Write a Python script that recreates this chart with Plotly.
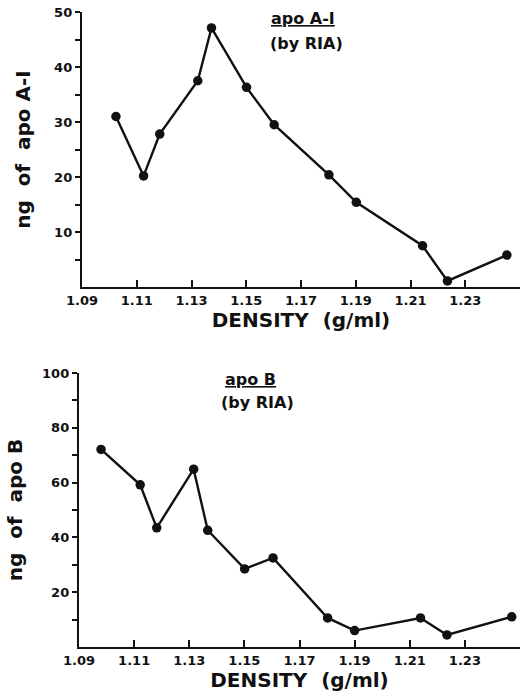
import plotly.graph_objects as go

# Top panel: apo A-I (by RIA)
densityA = [1.1024, 1.1125, 1.1184, 1.1323, 1.1373, 1.1501, 1.1602, 1.1802, 1.1902, 1.2144, 1.2235, 1.2452]
apoA = [31.0, 20.2, 27.8, 37.5, 47.1, 36.3, 29.5, 20.4, 15.4, 7.5, 1.1, 5.8]

# Bottom panel: apo B (by RIA)
densityB = [1.0980, 1.1122, 1.1182, 1.1316, 1.1367, 1.1501, 1.1604, 1.1802, 1.1900, 1.2139, 1.2235, 1.2470]
apoB = [72.1, 59.2, 43.5, 64.9, 42.6, 28.5, 32.5, 10.6, 6.0, 10.6, 4.4, 11.0]

x_ticks = [1.09, 1.11, 1.13, 1.15, 1.17, 1.19, 1.21, 1.23]
x_ticklabels = ["1.09", "1.11", "1.13", "1.15", "1.17", "1.19", "1.21", "1.23"]
yA_ticks = [10, 20, 30, 40, 50]
yA_minor = [5, 15, 25, 35, 45]
yB_ticks = [20, 40, 60, 80, 100]
yB_minor = [10, 30, 50, 70, 90]

W, H = 520, 696
FONT = "DejaVu Sans"
BLACK = "#111111"

fig = go.Figure()
line_style = dict(color=BLACK, width=2.4)
marker_style = dict(color=BLACK, size=9.5)

fig.add_trace(go.Scatter(x=densityA, y=apoA, mode="lines+markers", line=line_style,
                         marker=marker_style, xaxis="x", yaxis="y", showlegend=False))
fig.add_trace(go.Scatter(x=densityB, y=apoB, mode="lines+markers", line=line_style,
                         marker=marker_style, xaxis="x2", yaxis="y2", showlegend=False))

def px_x(p):
    return p / W

def px_y(p):
    return 1 - p / H

common_x = dict(
    range=[1.09, 1.25], tickvals=x_ticks, ticktext=x_ticklabels,
    ticks="inside", ticklen=7, tickwidth=2, tickcolor=BLACK,
    showline=True, linecolor=BLACK, linewidth=2.4, showgrid=False, zeroline=False,
    tickfont=dict(family=FONT, size=13, color=BLACK, weight="bold"),
    title=dict(text="DENSITY  (g/ml)", font=dict(family=FONT, size=20, color=BLACK, weight="bold"), standoff=5),
    automargin=False,
)
common_y = dict(
    ticks="outside", ticklen=5, tickwidth=2, tickcolor=BLACK,
    showline=True, linecolor=BLACK, linewidth=2.4, showgrid=False, zeroline=False,
    tickfont=dict(family=FONT, size=13, color=BLACK, weight="bold"),
    automargin=False,
)

fig.update_layout(
    width=W, height=H,
    margin=dict(l=0, r=0, t=0, b=0),
    paper_bgcolor="white", plot_bgcolor="white",
    xaxis=dict(domain=[px_x(82), 1.0], anchor="y", **common_x),
    yaxis=dict(domain=[px_y(287), px_y(12)], anchor="x", range=[0, 50],
               tickvals=yA_ticks,
               minor=dict(tickvals=yA_minor, ticks="outside", ticklen=5, tickwidth=2, tickcolor=BLACK),
               title=dict(text="ng  of  apo A-I", font=dict(family=FONT, size=20, color=BLACK, weight="bold"), standoff=18),
               **common_y),
    xaxis2=dict(domain=[px_x(79), 1.0], anchor="y2", **common_x),
    yaxis2=dict(domain=[px_y(647), px_y(373)], anchor="x2", range=[0, 100],
                tickvals=yB_ticks,
                minor=dict(tickvals=yB_minor, ticks="outside", ticklen=5, tickwidth=2, tickcolor=BLACK),
                title=dict(text="ng  of  apo B", font=dict(family=FONT, size=20, color=BLACK, weight="bold"), standoff=14),
                **common_y),
)

ann_font = dict(family=FONT, size=16, color=BLACK, weight="bold")
annotations = [
    dict(text="<u>apo A-I</u>", x=px_x(303), y=px_y(19)),
    dict(text="(by RIA)", x=px_x(306), y=px_y(43)),
    dict(text="<u>apo B</u>", x=px_x(250), y=px_y(379)),
    dict(text="(by RIA)", x=px_x(257), y=px_y(402)),
]
for a in annotations:
    fig.add_annotation(xref="paper", yref="paper", xanchor="center", yanchor="middle",
                       showarrow=False, font=ann_font, **a)

fig.write_html("out.html")
